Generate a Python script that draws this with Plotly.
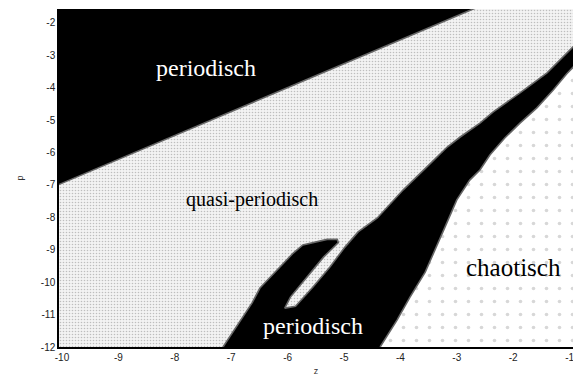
import plotly.graph_objects as go

# Region boundaries (z, p)
upper_boundary_z = [-10.1, -2.71]
upper_boundary_p = [-7.02, -1.57]

# left edge of the lower black band (incl. the tongue and the sliver)
band_left_z = [-7.145, -6.63, -6.49, -5.90, -5.73, -5.30, -5.12, -5.10, -5.36, -5.66, -5.95, -6.05,
               -5.86, -5.55, -5.25, -4.98, -4.75, -4.41, -3.95, -3.53, -3.17, -2.94, -2.59, -2.36,
               -1.88, -1.40, -1.12, -0.85]
band_left_p = [-12.0, -10.64, -10.18, -9.10, -8.85, -8.68, -8.68, -8.78, -9.22, -9.84, -10.46, -10.80,
               -10.74, -10.15, -9.53, -8.91, -8.45, -8.02, -7.15, -6.44, -5.83, -5.52, -5.09, -4.75,
               -4.16, -3.54, -3.05, -2.58]

# right edge of the lower black band
band_right_z = [-4.36, -4.06, -3.83, -3.56, -3.39, -3.21, -3.00, -2.77, -2.59, -2.41, -2.15, -1.88,
                -1.58, -1.29, -1.05, -0.85]
band_right_p = [-12.0, -11.17, -10.46, -9.69, -9.01, -8.30, -7.46, -6.85, -6.54, -6.07, -5.55, -5.09,
                -4.62, -4.07, -3.57, -3.20]

z_ticks = [-10, -9, -8, -7, -6, -5, -4, -3, -2, -1]
p_ticks = [-2, -3, -4, -5, -6, -7, -8, -9, -10, -11, -12]

labels = ["periodisch", "quasi-periodisch", "chaotisch", "periodisch"]
label_z = [-7.45, -6.63, -1.99, -5.55]
label_p = [-3.39, -7.46, -9.56, -11.35]
label_color = ["white", "black", "black", "white"]
label_size = [24, 20, 25, 24]

Z_MIN, Z_MAX = -10.053, -0.94
P_MIN, P_MAX = -12.0, -1.57
E = 0.3

fig = go.Figure()

# chaotic region (background, sparse dots)
chaos_z = [Z_MIN - E, Z_MAX + E, Z_MAX + E, Z_MIN - E]
chaos_p = [P_MIN - E, P_MIN - E, P_MAX + E, P_MAX + E]
fig.add_trace(go.Scatter(x=chaos_z, y=chaos_p, fill="toself", mode="lines",
                         line=dict(width=0), fillcolor="white",
                         fillpattern=dict(shape=".", fgcolor="#b0b0b0", bgcolor="white",
                                          size=13, solidity=0.06),
                         hoverinfo="skip", showlegend=False))

# quasi-periodic region
quasi_z = [Z_MIN - E, band_left_z[0]] + band_left_z + [Z_MAX + E, Z_MAX + E, Z_MIN - E]
quasi_p = [P_MIN - E, P_MIN - E] + band_left_p + [band_left_p[-1], P_MAX + E, P_MAX + E]
fig.add_trace(go.Scatter(x=quasi_z, y=quasi_p, fill="toself", mode="lines",
                         line=dict(width=0), fillcolor="#e8e8e8",
                         fillpattern=dict(shape=".", fgcolor="#8a8a8a", bgcolor="#f3f3f3",
                                          size=3, solidity=0.22),
                         hoverinfo="skip", showlegend=False))

# lower black periodic band
band_z = band_left_z + band_right_z[::-1]
band_p = band_left_p + band_right_p[::-1]
fig.add_trace(go.Scatter(x=band_z, y=band_p, fill="toself", mode="lines",
                         line=dict(color="#666666", width=1.6), fillcolor="black",
                         hoverinfo="skip", showlegend=False))

# upper black periodic region
top_z = [upper_boundary_z[0], upper_boundary_z[1], upper_boundary_z[1] + 0.5, Z_MIN - E]
top_p = [upper_boundary_p[0], upper_boundary_p[1], P_MAX + E, P_MAX + E]
fig.add_trace(go.Scatter(x=top_z, y=top_p, fill="toself", mode="lines",
                         line=dict(color="#666666", width=1.6), fillcolor="black",
                         hoverinfo="skip", showlegend=False))

for t, zx, py, c, s in zip(labels, label_z, label_p, label_color, label_size):
    fig.add_annotation(x=zx, y=py, text=t, showarrow=False,
                       font=dict(family="Liberation Serif, DejaVu Serif, serif", size=s, color=c))

axis_font = dict(family="Liberation Sans, Arial, sans-serif", size=10, color="#222")
fig.update_layout(
    width=573, height=378,
    margin=dict(l=59, r=0, t=9, b=31),
    paper_bgcolor="white", plot_bgcolor="white",
    xaxis=dict(range=[Z_MIN, Z_MAX], tickvals=z_ticks, ticktext=[f"-{abs(v)}" for v in z_ticks],
               showgrid=False, zeroline=False, showline=True, linecolor="black", linewidth=1.5,
               ticks="", tickfont=axis_font, ticklabeloverflow="allow",
               title=dict(text="z", font=dict(family="Liberation Sans, Arial, sans-serif", size=9, color="#333"),
                          standoff=6)),
    yaxis=dict(range=[P_MIN, P_MAX], tickvals=p_ticks, ticktext=[f"-{abs(v)}" for v in p_ticks],
               showgrid=False, zeroline=False, showline=True, linecolor="black", linewidth=1.5,
               ticks="", tickfont=axis_font,
               title=dict(text="p", font=dict(family="Liberation Sans, Arial, sans-serif", size=9, color="#333"),
                          standoff=16)),
)

fig.write_html("out.html")
